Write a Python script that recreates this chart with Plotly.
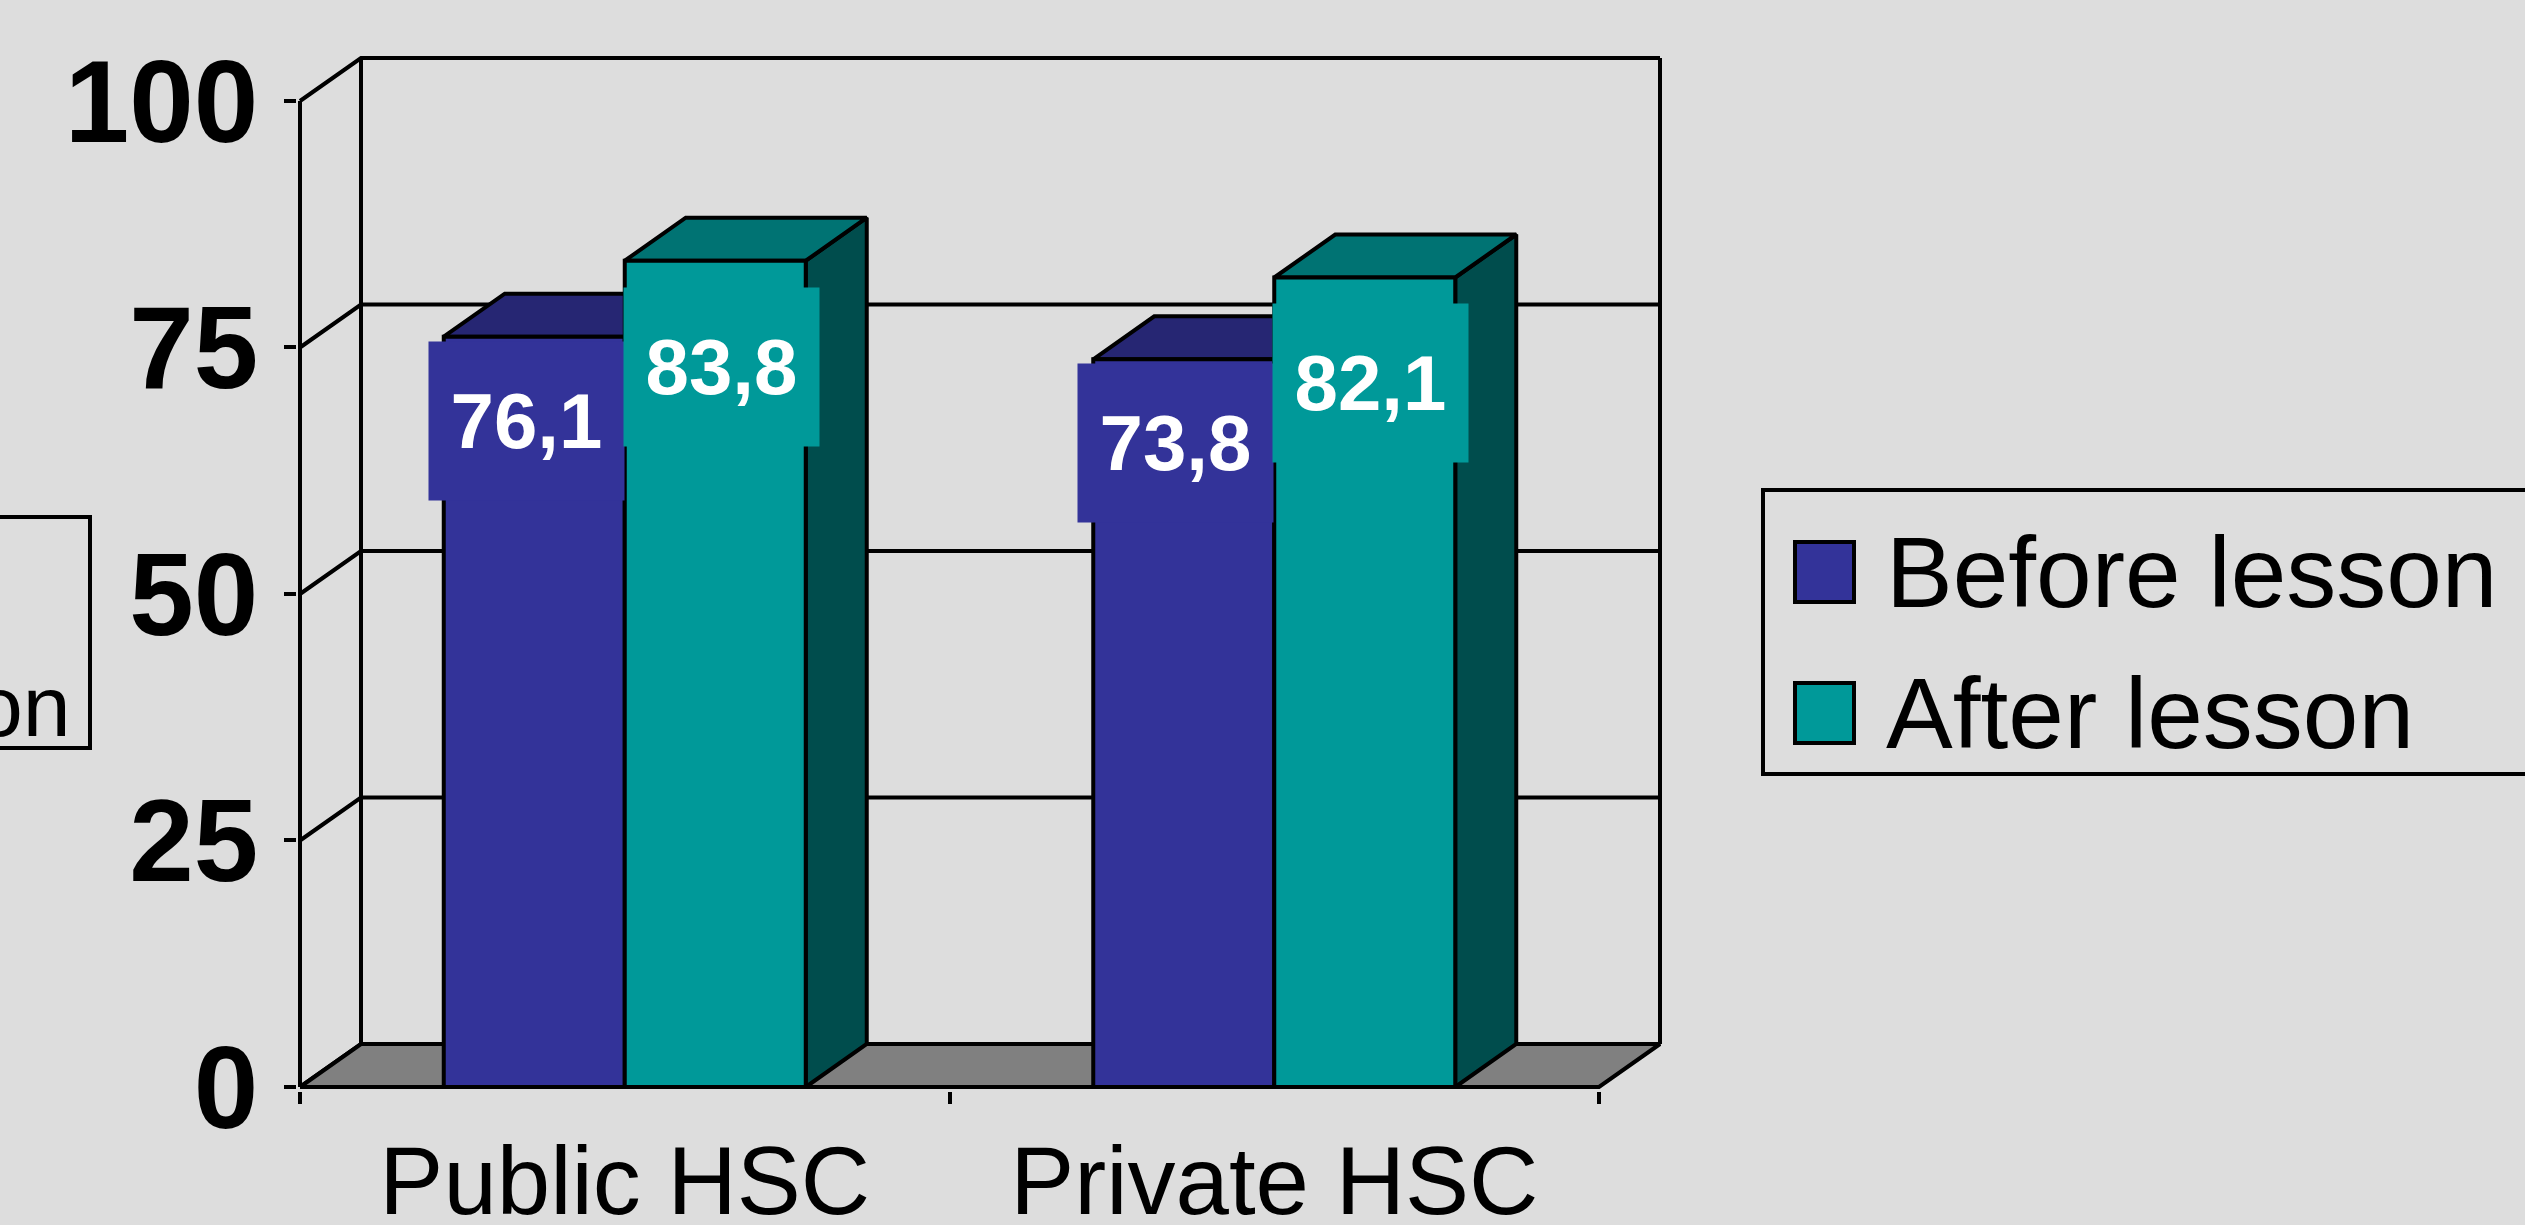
import plotly.graph_objects as go

# ---------------- data ----------------
categories = ["Public HSC", "Private HSC"]
series_names = ["Before lesson", "After lesson"]
before_values = [76.1, 73.8]
after_values = [83.8, 82.1]
y_tick_values = [0, 25, 50, 75, 100]

series_values = [before_values, after_values]

# ---------------- style / geometry ----------------
W, H = 2525, 1225
FONT = "Liberation Sans, Arial, sans-serif"
BG = "#DDDDDD"
# (front, top, side) colours per series
series_colors = [("#333399", "#262673", "#1A1A4D"),
                 ("#009999", "#007373", "#004D4D")]
FLOOR = "#808080"
LW = 4

X0_PX = 300.0      # pixel of category-axis start (front)
CAT_PX = 649.5     # pixels per category
Y0_PX = 1087.0     # pixel of value 0 (front)
UNIT_PX = 9.86     # pixels per value unit
DEPTH_PX = (61.0, 43.0)
BAR_W = 181.0 / CAT_PX   # bar width in category units

depth_x = DEPTH_PX[0] / CAT_PX
depth_y = DEPTH_PX[1] / UNIT_PX
n_cat = len(categories)
y_top = max(y_tick_values)

x_min, x_max = -0.004, n_cat + depth_x + 0.012
y_min, y_max = -0.45, y_top + depth_y + 0.4


def px_x(v):
    return X0_PX + v * CAT_PX


def px_y(v):
    return Y0_PX - v * UNIT_PX


dom_x = [px_x(x_min) / W, px_x(x_max) / W]
dom_y = [1 - px_y(y_min) / H, 1 - px_y(y_max) / H]

fig = go.Figure()


def add_lines(xs, ys, width=LW):
    fig.add_trace(go.Scatter(x=xs, y=ys, mode="lines",
                             line=dict(color="black", width=width),
                             hoverinfo="skip", showlegend=False))


def add_poly(xs, ys, fill, width=LW):
    fig.add_trace(go.Scatter(x=xs + [xs[0]], y=ys + [ys[0]], mode="lines",
                             fill="toself", fillcolor=fill,
                             line=dict(color="black", width=width),
                             hoverinfo="skip", showlegend=False))


# back wall gridlines + side wall diagonals
gx, gy = [], []
for v in y_tick_values:
    gx += [0, depth_x, n_cat + depth_x, None]
    gy += [v, v + depth_y, v + depth_y, None]
# back wall vertical edges
gx += [depth_x, depth_x, None, n_cat + depth_x, n_cat + depth_x, None]
gy += [depth_y, y_top + depth_y, None, depth_y, y_top + depth_y, None]
add_lines(gx, gy)

# floor
add_poly([0, n_cat, n_cat + depth_x, depth_x], [0, 0, depth_y, depth_y], FLOOR)

# front value axis line
add_lines([0, 0], [0, y_top])

# 3D bars (painter's order)
for j in range(n_cat):
    for i, vals in enumerate(series_values):
        v = vals[j]
        xl = j + 0.5 + (i - 1) * BAR_W
        xr = xl + BAR_W
        front, top, side = series_colors[i]
        add_poly([xr, xr + depth_x, xr + depth_x, xr],
                 [0, depth_y, v + depth_y, v], side)
        add_poly([xl, xr, xr + depth_x, xl + depth_x],
                 [v, v, v + depth_y, v + depth_y], top)
        add_poly([xl, xr, xr, xl], [0, 0, v, v], front)

# data labels
label_shift = [(-8, -84), (6, -106)]
annotations = []
for i, vals in enumerate(series_values):
    for j, v in enumerate(vals):
        xc = j + 0.5 + (i - 0.5) * BAR_W
        annotations.append(dict(
            x=xc, y=v, xref="x", yref="y",
            text=f"{v:.1f}".replace(".", ","),
            showarrow=False, xshift=label_shift[i][0], yshift=label_shift[i][1],
            width=195, height=158, borderpad=0, bgcolor=series_colors[i][0],
            align="center", valign="middle",
            font=dict(family=FONT, size=78, color="white", weight="bold")))

# manual legend
shapes = []
LEG_L, LEG_T, LEG_B = 1763, 490, 774
shapes.append(dict(type="rect", xref="paper", yref="paper",
                   x0=LEG_L / W, x1=1.02, y0=1 - LEG_B / H, y1=1 - LEG_T / H,
                   line=dict(color="black", width=LW), fillcolor="rgba(0,0,0,0)"))
row_centers = [572, 713]
for i, name in enumerate(series_names):
    cy = row_centers[i]
    shapes.append(dict(type="rect", xref="paper", yref="paper",
                       x0=1795 / W, x1=1854 / W,
                       y0=1 - (cy + 30) / H, y1=1 - (cy - 30) / H,
                       line=dict(color="black", width=LW),
                       fillcolor=series_colors[i][0]))
    annotations.append(dict(x=1885 / W, y=1 - cy / H, xref="paper", yref="paper",
                            xanchor="left", yanchor="middle", text=name,
                            showarrow=False, borderpad=0,
                            font=dict(family=FONT, size=100, color="black")))

# partially visible box at the left edge
shapes.append(dict(type="rect", xref="paper", yref="paper",
                   x0=-0.02, x1=90 / W, y0=1 - 748 / H, y1=1 - 517 / H,
                   line=dict(color="black", width=LW), fillcolor="rgba(0,0,0,0)"))
annotations.append(dict(x=72 / W, y=1 - 706 / H, xref="paper", yref="paper",
                        xanchor="right", yanchor="middle", text="on",
                        showarrow=False, borderpad=0,
                        font=dict(family=FONT, size=86, color="black")))

fig.update_layout(
    width=W, height=H, autosize=False,
    margin=dict(l=0, r=0, t=0, b=0, pad=0, autoexpand=False),
    paper_bgcolor=BG, plot_bgcolor="rgba(0,0,0,0)",
    showlegend=False,
    shapes=shapes, annotations=annotations,
    xaxis=dict(domain=dom_x, range=[x_min, x_max], showgrid=False,
               zeroline=False, showline=False, automargin=False,
               tickmode="array", tickvals=[j + 0.5 for j in range(n_cat)],
               ticktext=categories, ticks="",
               tickfont=dict(family=FONT, size=96, color="black"),
               ticklabelstandoff=26,
               minor=dict(tickmode="array", tickvals=list(range(n_cat + 1)),
                          ticks="outside", ticklen=12, tickwidth=LW,
                          tickcolor="black", showgrid=False)),
    yaxis=dict(domain=dom_y, range=[y_min, y_max], showgrid=False,
               zeroline=False, showline=False, automargin=False,
               tickmode="array", tickvals=y_tick_values,
               ticks="outside", ticklen=12, tickwidth=LW, tickcolor="black",
               tickfont=dict(family=FONT, size=116, color="black", weight="bold"),
               ticklabelstandoff=3),
)

fig.write_html(
    "out.html",
    config={"displayModeBar": False},
    post_script="document.body.style.margin='0';"
                "document.body.style.background='" + BG + "';"
                "document.documentElement.style.background='" + BG + "';",
)
